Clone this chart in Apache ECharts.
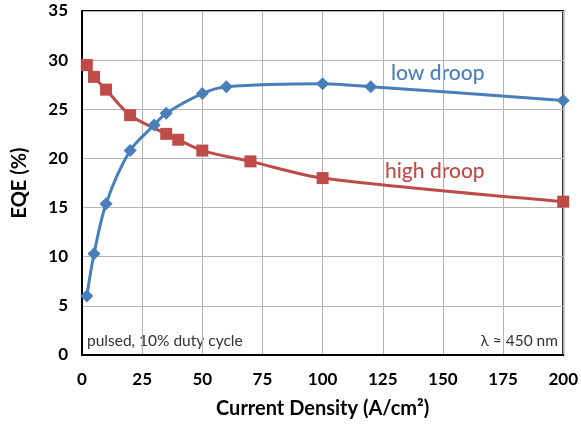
<!DOCTYPE html>
<html>
<head>
<meta charset="utf-8">
<script src="https://cdn.jsdelivr.net/npm/echarts@6/dist/echarts.min.js"></script>
<style>html,body{margin:0;padding:0;background:#fff}#c{width:581px;height:426px}</style>
</head>
<body>
<div id="c"></div>
<script>
const lowX = [2, 5, 10, 20, 30, 35, 50, 60, 100, 120, 200];
const lowY = [6.0, 10.3, 15.4, 20.8, 23.4, 24.6, 26.6, 27.3, 27.6, 27.3, 25.9];
const highX = [2, 5, 10, 20, 35, 40, 50, 70, 100, 200];
const highY = [29.5, 28.3, 27.0, 24.4, 22.5, 21.9, 20.8, 19.7, 18.0, 15.6];
const xTicks = [0, 25, 50, 75, 100, 125, 150, 175, 200];
const yTicks = [0, 5, 10, 15, 20, 25, 30, 35];

const FONT = 'Lato, "Open Sans", sans-serif';
const chart = echarts.init(document.getElementById('c'), null, {renderer: 'canvas'});
chart.setOption({
  animation: false,
  grid: {left: 82, right: 14, top: 11, bottom: 71, show: true, borderColor: '#000', borderWidth: 2, backgroundColor: 'transparent'},
  xAxis: {
    type: 'value', min: xTicks[0], max: xTicks[xTicks.length - 1], interval: 25,
    name: 'Current Density (A/cm²)', nameLocation: 'middle', nameGap: 44,
    nameTextStyle: {fontFamily: FONT, fontWeight: 'bold', fontSize: 20, color: '#000'},
    axisLine: {show: true, lineStyle: {color: '#000', width: 2}},
    axisTick: {show: false},
    axisLabel: {fontFamily: FONT, fontWeight: 'bold', fontSize: 17, color: '#000', margin: 16},
    splitLine: {show: true, lineStyle: {color: '#b4b4b4', width: 1}}
  },
  yAxis: {
    type: 'value', min: yTicks[0], max: yTicks[yTicks.length - 1], interval: 5,
    name: 'EQE (%)', nameLocation: 'middle', nameGap: 52, nameRotate: 90,
    nameTextStyle: {fontFamily: FONT, fontWeight: 'bold', fontSize: 20, color: '#000'},
    axisLine: {show: true, lineStyle: {color: '#000', width: 2}},
    axisTick: {show: false},
    axisLabel: {fontFamily: FONT, fontWeight: 'bold', fontSize: 17, color: '#000', margin: 14},
    splitLine: {show: true, lineStyle: {color: '#b4b4b4', width: 1}}
  },
  series: [
    {
      name: 'low droop', type: 'line', smooth: 0.3,
      data: lowX.map((x, i) => [x, lowY[i]]),
      symbol: 'diamond', symbolSize: 13,
      itemStyle: {color: '#4A7EBB'},
      lineStyle: {color: '#4A7EBB', width: 3},
      z: 3
    },
    {
      name: 'high droop', type: 'line', smooth: 0.3,
      data: highX.map((x, i) => [x, highY[i]]),
      symbol: 'rect', symbolSize: 12,
      itemStyle: {color: '#BE4B48'},
      lineStyle: {color: '#BE4B48', width: 3},
      z: 2
    }
  ],
  graphic: [
    {type: 'text', left: 391, top: 63, style: {text: 'low droop', fill: '#4A7EBB', font: '500 21px ' + FONT}},
    {type: 'text', left: 385, top: 161, style: {text: 'high droop', fill: '#BE4B48', font: '500 21px ' + FONT}},
    {type: 'text', left: 87, top: 333, style: {text: 'pulsed, 10% duty cycle', fill: '#333', font: '15.5px ' + FONT}},
    {type: 'text', right: 23, top: 333, style: {text: 'λ ≈ 450 nm', fill: '#333', font: '15.5px ' + FONT}}
  ]
});
</script>
</body>
</html>
